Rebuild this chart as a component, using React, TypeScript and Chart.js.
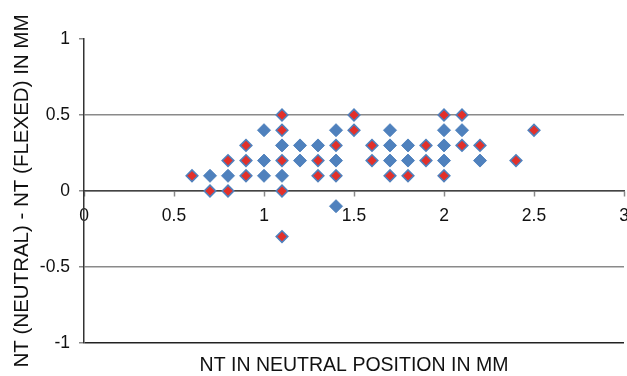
import { useEffect, useRef } from 'react';
import { Chart, registerables } from 'chart.js';

Chart.register(...registerables);

const FONT = "'Liberation Sans', Arial, Helvetica, sans-serif";

const xTicks = [0, 0.5, 1, 1.5, 2, 2.5, 3];
const xTickLabels = ['0', '0.5', '1', '1.5', '2', '2.5', '3'];
const yTicks = [-1, -0.5, 0, 0.5, 1];
const yTickLabels = ['-1', '-0.5', '0', '0.5', '1'];

const blueX = [0.7, 0.8, 1.0, 1.0, 1.0, 1.1, 1.1, 1.2, 1.2, 1.3, 1.4, 1.4, 1.4, 1.7, 1.7, 1.7, 1.8, 1.8, 2.0, 2.0, 2.0, 2.1, 2.2];
const blueY = [0.1, 0.1, 0.4, 0.2, 0.1, 0.3, 0.1, 0.3, 0.2, 0.3, 0.4, 0.2, -0.1, 0.4, 0.3, 0.2, 0.3, 0.2, 0.4, 0.3, 0.2, 0.4, 0.2];

const redX = [0.6, 0.7, 0.8, 0.8, 0.9, 0.9, 0.9, 1.1, 1.1, 1.1, 1.1, 1.1, 1.3, 1.3, 1.4, 1.4, 1.5, 1.5, 1.6, 1.6, 1.7, 1.8, 1.9, 1.9, 2.0, 2.0, 2.1, 2.1, 2.2, 2.4, 2.5];
const redY = [0.1, 0.0, 0.2, 0.0, 0.3, 0.2, 0.1, 0.5, 0.4, 0.2, 0.0, -0.3, 0.2, 0.1, 0.3, 0.1, 0.5, 0.4, 0.3, 0.2, 0.1, 0.1, 0.3, 0.2, 0.5, 0.1, 0.5, 0.3, 0.3, 0.2, 0.4];

const xTitle = 'NT IN NEUTRAL POSITION IN MM';
const yTitle = 'NT (NEUTRAL) - NT (FLEXED) IN MM';

const BLUE = '#4F81BD';
const RED = '#E2302A';

const zeroPadding = () => ({ left: 0, top: 0, right: 0, bottom: 0 });

export default function App() {
  const ref = useRef<HTMLCanvasElement | null>(null);

  useEffect(() => {
    document.body.style.margin = '0';
    const canvas = ref.current;
    if (!canvas) return;
    const chart = new Chart(canvas, {
      type: 'scatter',
      data: {
        datasets: [
          {
            label: 'Blue',
            data: blueX.map((x, i) => ({ x, y: blueY[i] })),
            pointStyle: 'rectRot',
            pointRadius: 6.5,
            backgroundColor: BLUE,
            borderColor: BLUE,
            borderWidth: 1,
          },
          {
            label: 'Red',
            data: redX.map((x, i) => ({ x, y: redY[i] })),
            pointStyle: 'rectRot',
            pointRadius: 5.8,
            backgroundColor: RED,
            borderColor: BLUE,
            borderWidth: 1.6,
          },
        ],
      },
      options: {
        responsive: false,
        animation: false,
        devicePixelRatio: 1,
        layout: { autoPadding: false, padding: { top: 39, right: 3, left: 0, bottom: 1 } },
        plugins: {
          legend: { display: false },
          tooltip: { enabled: false },
          title: {
            display: true,
            text: xTitle,
            position: 'bottom',
            fullSize: false,
            color: '#111',
            font: { family: FONT, size: 19.5, weight: 'normal', lineHeight: 1 },
            padding: { top: 12.5, bottom: 0 },
          },
        },
        scales: {
          x: {
            type: 'linear',
            position: { y: 0 },
            min: 0,
            max: 3,
            afterBuildTicks: (s: any) => {
              s.ticks = xTicks.map((v) => ({ value: v }));
            },
            afterFit: (s: any) => {
              s.height = 0;
              s.paddingLeft = 0;
              s.paddingRight = 0;
              s.getPadding = zeroPadding;
            },
            grid: {
              drawOnChartArea: false,
              drawTicks: true,
              tickLength: 5,
              tickColor: '#888',
              tickWidth: 1.5,
            },
            border: { display: true, color: '#444', width: 1.5 },
            ticks: {
              callback: (_v: any, i: number) => xTickLabels[i],
              padding: 10,
              color: '#111',
              font: { family: FONT, size: 17.5 },
              maxRotation: 0,
              autoSkip: false,
            },
          },
          y: {
            type: 'linear',
            position: 'left',
            min: -1,
            max: 1,
            afterBuildTicks: (s: any) => {
              s.ticks = yTicks.map((v) => ({ value: v }));
            },
            afterFit: (s: any) => {
              s.width = 84;
            },
            grid: {
              color: (ctx: any) => {
                const v = ctx.tick ? ctx.tick.value : null;
                if (v === 1) return 'rgba(0,0,0,0)';
                if (v === -1) return '#222';
                return '#8a8a8a';
              },
              lineWidth: 1.5,
              drawTicks: true,
              tickLength: 5,
              tickColor: '#888',
              tickWidth: 1.5,
            },
            border: { display: true, color: '#333', width: 1.5 },
            ticks: {
              callback: (_v: any, i: number) => yTickLabels[i],
              padding: 9,
              color: '#111',
              font: { family: FONT, size: 17.5 },
            },
            title: {
              display: true,
              text: yTitle,
              color: '#111',
              font: { family: FONT, size: 20.5, lineHeight: 1 },
              padding: { top: 12, bottom: 0 },
            },
          },
        },
      },
    });
    return () => chart.destroy();
  }, []);

  return (
    <div style={{ width: 627, height: 376, background: '#fff' }}>
      <canvas ref={ref} width={627} height={376} style={{ display: 'block' }} />
    </div>
  );
}
